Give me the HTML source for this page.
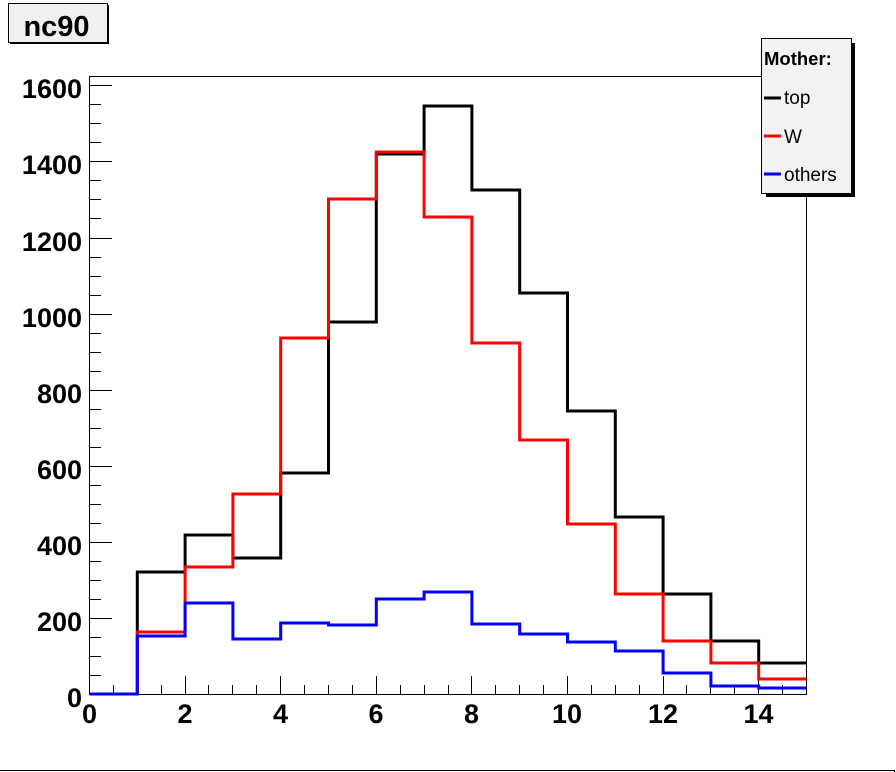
<!DOCTYPE html>
<html>
<head>
<meta charset="utf-8">
<style>
html,body{margin:0;padding:0;background:#fff;}
svg{display:block;}
text{font-family:"Liberation Sans",Arial,sans-serif;}
</style>
</head>
<body>
<svg width="896" height="772" viewBox="0 0 896 772" xmlns="http://www.w3.org/2000/svg">
<rect x="0" y="0" width="896" height="772" fill="#fff"/>

<!-- title box -->
<rect x="10" y="5" width="99" height="39" fill="#000"/>
<rect x="8.5" y="3.5" width="99" height="39" fill="#f0f0f0" stroke="#000" stroke-width="1"/>
<text x="56.5" y="36" font-size="29" font-weight="bold" text-anchor="middle">nc90</text>

<!-- frame -->
<rect x="89.5" y="76.5" width="717" height="618" fill="none" stroke="#000" stroke-width="1"/>

<!-- y ticks -->
<g stroke="#000" stroke-width="1">
<line x1="89" y1="694.5" x2="112" y2="694.5"/>
<line x1="89" y1="675.5" x2="101" y2="675.5"/>
<line x1="89" y1="656.5" x2="101" y2="656.5"/>
<line x1="89" y1="637.5" x2="101" y2="637.5"/>
<line x1="89" y1="618.5" x2="112" y2="618.5"/>
<line x1="89" y1="599.5" x2="101" y2="599.5"/>
<line x1="89" y1="580.5" x2="101" y2="580.5"/>
<line x1="89" y1="561.5" x2="101" y2="561.5"/>
<line x1="89" y1="542.5" x2="112" y2="542.5"/>
<line x1="89" y1="523.5" x2="101" y2="523.5"/>
<line x1="89" y1="504.5" x2="101" y2="504.5"/>
<line x1="89" y1="485.5" x2="101" y2="485.5"/>
<line x1="89" y1="466.5" x2="112" y2="466.5"/>
<line x1="89" y1="447.5" x2="101" y2="447.5"/>
<line x1="89" y1="428.5" x2="101" y2="428.5"/>
<line x1="89" y1="409.5" x2="101" y2="409.5"/>
<line x1="89" y1="390.5" x2="112" y2="390.5"/>
<line x1="89" y1="371.5" x2="101" y2="371.5"/>
<line x1="89" y1="352.5" x2="101" y2="352.5"/>
<line x1="89" y1="333.5" x2="101" y2="333.5"/>
<line x1="89" y1="314.5" x2="112" y2="314.5"/>
<line x1="89" y1="295.5" x2="101" y2="295.5"/>
<line x1="89" y1="276.5" x2="101" y2="276.5"/>
<line x1="89" y1="257.5" x2="101" y2="257.5"/>
<line x1="89" y1="238.5" x2="112" y2="238.5"/>
<line x1="89" y1="218.5" x2="101" y2="218.5"/>
<line x1="89" y1="199.5" x2="101" y2="199.5"/>
<line x1="89" y1="180.5" x2="101" y2="180.5"/>
<line x1="89" y1="161.5" x2="112" y2="161.5"/>
<line x1="89" y1="142.5" x2="101" y2="142.5"/>
<line x1="89" y1="123.5" x2="101" y2="123.5"/>
<line x1="89" y1="104.5" x2="101" y2="104.5"/>
<line x1="89" y1="85.5" x2="112" y2="85.5"/>
</g>

<!-- x ticks -->
<g stroke="#000" stroke-width="1">
<line x1="89.5" y1="694" x2="89.5" y2="676"/>
<line x1="113.5" y1="694" x2="113.5" y2="685"/>
<line x1="137.5" y1="694" x2="137.5" y2="685"/>
<line x1="161.5" y1="694" x2="161.5" y2="685"/>
<line x1="185.5" y1="694" x2="185.5" y2="676"/>
<line x1="208.5" y1="694" x2="208.5" y2="685"/>
<line x1="232.5" y1="694" x2="232.5" y2="685"/>
<line x1="256.5" y1="694" x2="256.5" y2="685"/>
<line x1="280.5" y1="694" x2="280.5" y2="676"/>
<line x1="304.5" y1="694" x2="304.5" y2="685"/>
<line x1="328.5" y1="694" x2="328.5" y2="685"/>
<line x1="352.5" y1="694" x2="352.5" y2="685"/>
<line x1="376.5" y1="694" x2="376.5" y2="676"/>
<line x1="400.5" y1="694" x2="400.5" y2="685"/>
<line x1="424.5" y1="694" x2="424.5" y2="685"/>
<line x1="448.5" y1="694" x2="448.5" y2="685"/>
<line x1="471.5" y1="694" x2="471.5" y2="676"/>
<line x1="495.5" y1="694" x2="495.5" y2="685"/>
<line x1="519.5" y1="694" x2="519.5" y2="685"/>
<line x1="543.5" y1="694" x2="543.5" y2="685"/>
<line x1="567.5" y1="694" x2="567.5" y2="676"/>
<line x1="591.5" y1="694" x2="591.5" y2="685"/>
<line x1="615.5" y1="694" x2="615.5" y2="685"/>
<line x1="639.5" y1="694" x2="639.5" y2="685"/>
<line x1="663.5" y1="694" x2="663.5" y2="676"/>
<line x1="686.5" y1="694" x2="686.5" y2="685"/>
<line x1="710.5" y1="694" x2="710.5" y2="685"/>
<line x1="734.5" y1="694" x2="734.5" y2="685"/>
<line x1="758.5" y1="694" x2="758.5" y2="676"/>
<line x1="782.5" y1="694" x2="782.5" y2="685"/>
</g>

<!-- y labels -->
<g font-size="27" font-weight="bold" text-anchor="end">
<text x="82" y="707">0</text>
<text x="82" y="631">200</text>
<text x="82" y="555">400</text>
<text x="82" y="479">600</text>
<text x="82" y="403">800</text>
<text x="82" y="327">1000</text>
<text x="82" y="251">1200</text>
<text x="82" y="174">1400</text>
<text x="82" y="98">1600</text>
</g>

<!-- x labels -->
<g font-size="27" font-weight="bold" text-anchor="middle">
<text x="89.5" y="723">0</text>
<text x="185" y="723">2</text>
<text x="280.5" y="723">4</text>
<text x="376" y="723">6</text>
<text x="471.5" y="723">8</text>
<text x="567" y="723">10</text>
<text x="663" y="723">12</text>
<text x="758.5" y="723">14</text>
</g>

<!-- histograms -->
<g fill="none" stroke-width="3" stroke-linejoin="miter">
<path stroke="#000" d="M89.5,694 H137.3 V572 H185.1 V535 H232.9 V558 H280.7 V473 H328.5 V322 H376.3 V154 H424.1 V106 H471.9 V190 H519.7 V293 H567.5 V411 H615.3 V517 H663.1 V594 H710.9 V641 H758.7 V663 H806.5"/>
<path stroke="#ff0000" d="M89.5,694 H137.3 V632 H185.1 V567 H232.9 V494 H280.7 V338 H328.5 V199 H376.3 V152 H424.1 V217 H471.9 V343 H519.7 V440 H567.5 V524 H615.3 V594 H663.1 V641 H710.9 V663 H758.7 V679 H806.5"/>
<path stroke="#0000ff" d="M89.5,694 H137.3 V636 H185.1 V603 H232.9 V639 H280.7 V623 H328.5 V625 H376.3 V599 H424.1 V592 H471.9 V624 H519.7 V634 H567.5 V642 H615.3 V651 H663.1 V673 H710.9 V686 H758.7 V688 H806.5"/>
</g>

<!-- legend -->
<rect x="766" y="43" width="89" height="154" fill="#000"/>
<rect x="761.5" y="38.5" width="90" height="155" fill="#f2f2f2" stroke="#000" stroke-width="1"/>
<text x="764" y="65" font-size="18.5" font-weight="bold">Mother:</text>
<line x1="764" y1="98" x2="781" y2="98" stroke="#000" stroke-width="3"/>
<text x="784" y="104" font-size="19">top</text>
<line x1="764" y1="136" x2="781" y2="136" stroke="#ff0000" stroke-width="3"/>
<text x="784" y="143" font-size="19">W</text>
<line x1="764" y1="174" x2="781" y2="174" stroke="#0000ff" stroke-width="3"/>
<text x="784" y="181" font-size="19">others</text>

<!-- bottom border line -->
<line x1="0" y1="770.5" x2="895" y2="770.5" stroke="#000" stroke-width="1"/>
<line x1="894.5" y1="770" x2="894.5" y2="772" stroke="#000" stroke-width="1"/>
</svg>
</body>
</html>
